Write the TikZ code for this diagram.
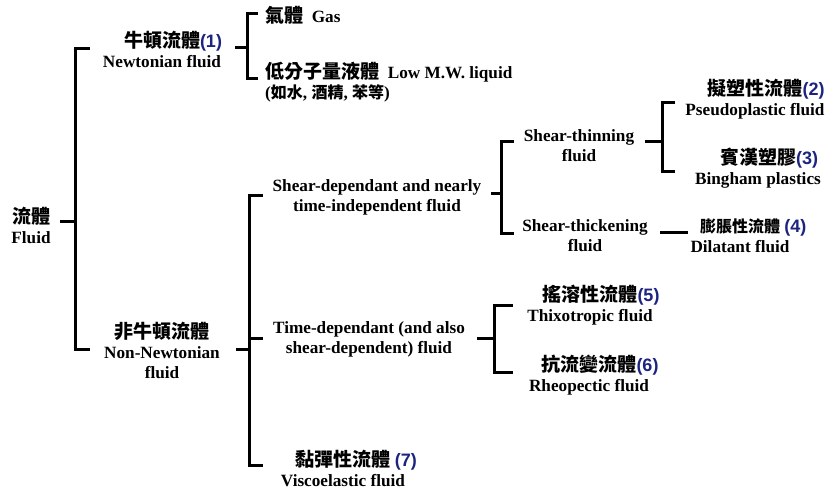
\documentclass[tikz,border=0pt]{standalone}
\usepackage{fontspec}
\setmainfont{Liberation Serif}
\newfontfamily\cjkf{Noto Sans CJK TC}
\newfontfamily\numf{Liberation Sans}
\definecolor{numblue}{RGB}{28,36,128}
\newcommand\zh[1]{{\cjkf\fontsize{19}{20}\selectfont #1}}
\newcommand\zhs[2]{{\cjkf\fontsize{#1}{20}\selectfont #2}}
\newcommand\numtag[1]{{\numf\bfseries\fontsize{18}{20}\selectfont\color{numblue}#1}}
\begin{document}
\begin{tikzpicture}[x=1pt,y=-1pt,
  lbl/.style={font=\bfseries\fontsize{17.2}{20}\selectfont, inner sep=0pt, align=center, text=black},
  br/.style={line width=3pt, line cap=butt, line join=miter}]
\useasboundingbox (0,0) rectangle (833,489);

% text nodes
\node[lbl] (fluid) at (31,225) {\zh{流體}\\Fluid};
\node[lbl] (newt) at (162,49) {\zh{牛頓流體}\rlap{\numtag{(1)}}\\Newtonian fluid};
\node[lbl,anchor=west] (gas) at (265,15) {\zh{氣體}\ \ Gas};
\node[lbl,anchor=west,align=left] (lowmw) at (265,82) {\zh{低分子量液體}\ \ Low M.W. liquid\\(\zhs{16}{如水}, \zhs{16}{酒精}, \zhs{16}{苯等})};
\node[lbl] (nonnewt) at (162,350) {\zh{非牛頓流體}\\Non-Newtonian\\fluid};
\node[lbl] (sheardep) at (377,197) {Shear-dependant and nearly\\time-independent fluid};
\node[lbl] (timedep) at (369,339) {Time-dependant (and also\\shear-dependent) fluid};
\node[lbl] (visco) at (343,468) {\zh{黏彈性流體}\rlap{\ \numtag{(7)}}\\Viscoelastic fluid};
\node[lbl] (thin) at (579,146) {Shear-thinning\\fluid};
\node[lbl] (thick) at (585,236) {Shear-thickening\\fluid};
\node[lbl] (pseudo) at (755,99) {\zh{擬塑性流體}\rlap{\numtag{(2)}}\\Pseudoplastic fluid};
\node[lbl] (bingham) at (758,168) {\zh{賓漢塑膠}\rlap{\numtag{(3)}}\\Bingham plastics};
\node[lbl] (dilat) at (740,236) {\zhs{16}{膨脹性流體}\rlap{\ \numtag{(4)}}\\Dilatant fluid};
\node[lbl] (thixo) at (590,305) {\zh{搖溶性流體}\rlap{\numtag{(5)}}\\Thixotropic fluid};
\node[lbl] (rheo) at (589,375) {\zh{抗流變流體}\rlap{\numtag{(6)}}\\Rheopectic fluid};

% bracket coordinates
\coordinate (fT) at (60,222);   \coordinate (fB) at (75,222);
\coordinate (a1) at (90,49);    \coordinate (a2) at (75,49);
\coordinate (a3) at (75,349);   \coordinate (a4) at (90,349);
\coordinate (nT) at (235,48);   \coordinate (nB) at (247,48);
\coordinate (b1) at (258,14);   \coordinate (b2) at (247,14);
\coordinate (b3) at (247,79);   \coordinate (b4) at (258,79);
\coordinate (nnT) at (236,349); \coordinate (nnB) at (249,349);
\coordinate (c1) at (263,196);  \coordinate (c2) at (249,196);
\coordinate (c3) at (249,465);  \coordinate (c4) at (263,465);
\coordinate (cm) at (249,338);  \coordinate (cm2) at (263,338);
\coordinate (sdT) at (491,194); \coordinate (sdB) at (501,194);
\coordinate (d1) at (514,142);  \coordinate (d2) at (501,142);
\coordinate (d3) at (501,234);  \coordinate (d4) at (514,234);
\coordinate (stT) at (645,142); \coordinate (stB) at (662,142);
\coordinate (e1) at (675,103);  \coordinate (e2) at (662,103);
\coordinate (e3) at (662,172);  \coordinate (e4) at (675,172);
\coordinate (tkL) at (660,233); \coordinate (tkR) at (688,233);
\coordinate (tdT) at (477,338); \coordinate (tdB) at (494,338);
\coordinate (g1) at (513,305);  \coordinate (g2) at (494,305);
\coordinate (g3) at (494,372);  \coordinate (g4) at (513,372);

% connectors
\draw[br] (fT) -- (fB);
\draw[br] (a1) -- (a2) -- (a3) -- (a4);
\draw[br] (nT) -- (nB);
\draw[br] (b1) -- (b2) -- (b3) -- (b4);
\draw[br] (nnT) -- (nnB);
\draw[br] (c1) -- (c2) -- (c3) -- (c4);
\draw[br] (cm) -- (cm2);
\draw[br] (sdT) -- (sdB);
\draw[br] (d1) -- (d2) -- (d3) -- (d4);
\draw[br] (stT) -- (stB);
\draw[br] (e1) -- (e2) -- (e3) -- (e4);
\draw[br] (tkL) -- (tkR);
\draw[br] (tdT) -- (tdB);
\draw[br] (g1) -- (g2) -- (g3) -- (g4);
\end{tikzpicture}
\end{document}
